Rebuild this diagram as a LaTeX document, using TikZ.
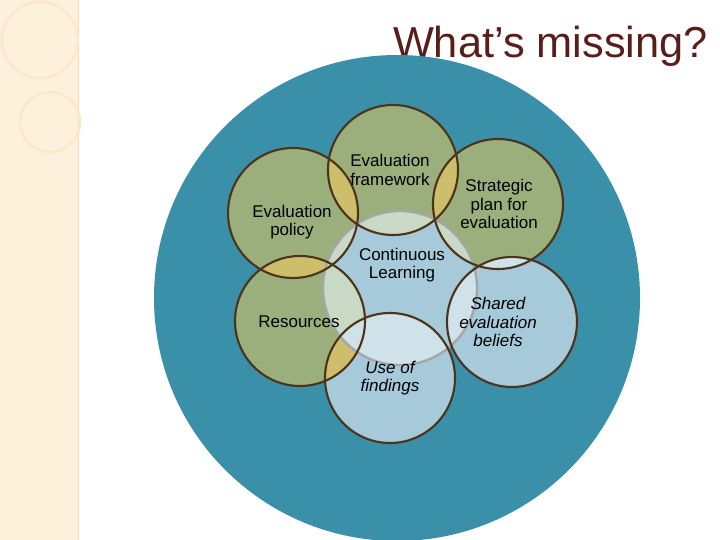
\documentclass[tikz,border=0pt]{standalone}
\usepackage{fontspec}
\setmainfont{Liberation Sans}
\begin{document}
\begin{tikzpicture}[x=0.03cm,y=-0.03cm,
  sm/.style={draw=brown!40!black,line width=1.8pt},
  lbl/.style={align=center,font=\fontsize{14.5}{15.5}\selectfont,inner sep=0pt}]
\definecolor{grn}{HTML}{9AAF7C}
\definecolor{ltblue}{HTML}{A6CAD9}
\definecolor{teal}{HTML}{3A8FA9}
\definecolor{yel}{HTML}{CDBE6C}
\definecolor{pale}{HTML}{C9D9C6}
\definecolor{palb}{HTML}{CFE2EA}
\definecolor{ttl}{HTML}{5A1E1A}
\useasboundingbox (0,0) rectangle (720,540);
\fill[white] (0,0) rectangle (720,540);
\fill[yellow!15!orange!12] (0,0) rectangle (78,540);
\draw[orange!30,line width=0.6pt] (78,0) -- (78,540);
\draw[orange!20!white,line width=2pt] (40,40) circle (38);
\draw[orange!20!white,line width=2pt] (50,122) circle (30);
\node[text=ttl,font=\fontsize{37}{40}\selectfont,anchor=east] (title) at (712,46) {What’s missing?};
\fill[teal] (397,298) circle (243);
\coordinate (cF) at (393,170); \coordinate (cS) at (498,204);
\coordinate (cB) at (512,322); \coordinate (cU) at (390,378);
\coordinate (cR) at (300,321); \coordinate (cP) at (293,213);
\coordinate (cC) at (400,288);
\def\r{65} \def\rc{77}
\fill[grn] (cF) circle (\r); \fill[grn] (cS) circle (\r);
\fill[ltblue] (cB) circle (\r); \fill[ltblue] (cU) circle (\r);
\fill[grn] (cR) circle (\r); \fill[grn] (cP) circle (\r);
\begin{scope}\clip (cP) circle (\r); \fill[yel] (cF) circle (\r); \fill[yel] (cR) circle (\r); \end{scope}
\begin{scope}\clip (cF) circle (\r); \fill[yel] (cS) circle (\r); \end{scope}
\begin{scope}\clip (cS) circle (\r); \fill[palb] (cB) circle (\r); \end{scope}
\begin{scope}\clip (cU) circle (\r); \fill[yel] (cR) circle (\r); \fill[palb] (cB) circle (\r); \end{scope}
\fill[ltblue] (cC) circle (\rc);
\begin{scope}\clip (cC) circle (\rc);
\fill[pale] (cF) circle (\r); \fill[pale] (cS) circle (\r); \fill[pale] (cP) circle (\r); \fill[pale] (cR) circle (\r);
\fill[palb] (cB) circle (\r); \fill[palb] (cU) circle (\r);
\end{scope}
\draw[gray!70,line width=2pt] (cC) circle (\rc);
\foreach \c in {cF,cS,cB,cU,cR,cP} \draw[sm] (\c) circle (\r);
\node[lbl] (nF) at (390,170) {Evaluation\\framework};
\node[lbl] (nS) at (499,204) {Strategic\\plan for\\evaluation};
\node[lbl,font=\fontsize{14.5}{15.5}\selectfont\itshape] (nB) at (498,322) {Shared\\evaluation\\beliefs};
\node[lbl,font=\fontsize{14.5}{15.5}\selectfont\itshape] (nU) at (390,378) {Use of\\findings};
\node[lbl] (nR) at (299,322) {Resources};
\node[lbl] (nP) at (292,222) {Evaluation\\policy};
\node[lbl] (nC) at (402,265) {Continuous\\Learning};
\end{tikzpicture}
\end{document}
